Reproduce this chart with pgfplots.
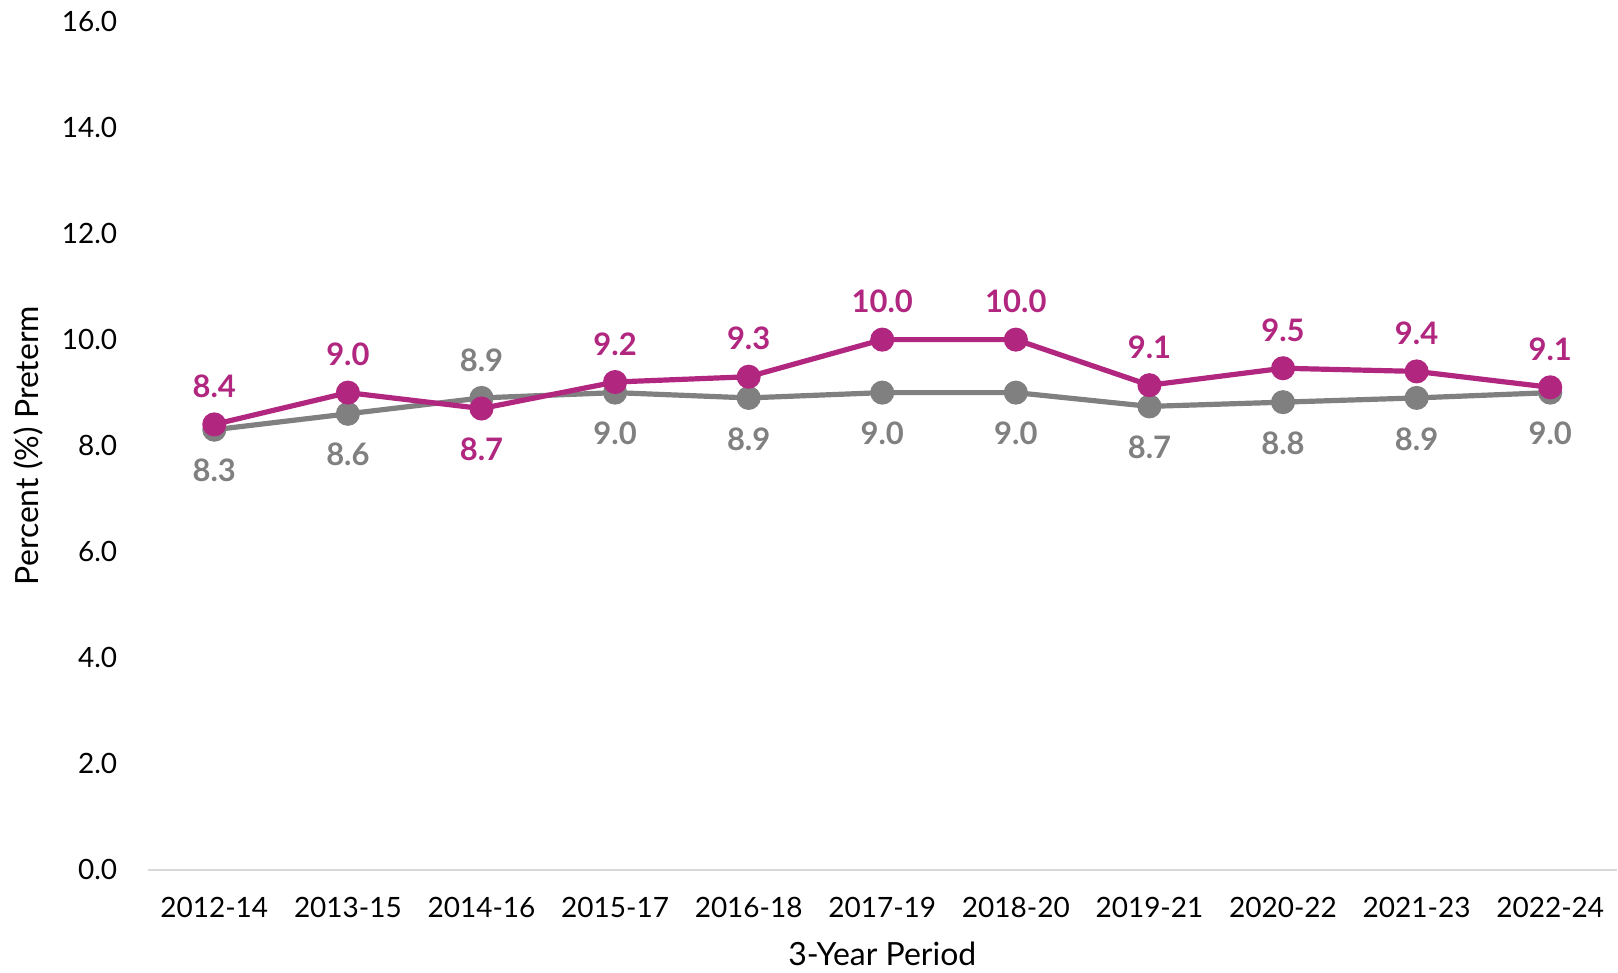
\documentclass[border=0pt]{standalone}
\usepackage{fontspec}
\setmainfont{Lato}
\usepackage{pgfplots}
\pgfplotsset{compat=1.18}
\definecolor{magentaline}{RGB}{177,39,128}
\definecolor{grayline}{RGB}{128,128,128}
\definecolor{axisgray}{RGB}{217,217,217}
\newcommand{\lblfont}{\fontsize{15.5}{18}\selectfont\bfseries}
\begin{document}
\begin{tikzpicture}
\begin{axis}[
  scale only axis, width=735.2pt, height=424.2pt,
  xmin=-0.5, xmax=10.5, ymin=0, ymax=16,
  xtick={0,...,10},
  xticklabels={2012-14,2013-15,2014-16,2015-17,2016-18,2017-19,2018-20,2019-21,2020-22,2021-23,2022-24},
  ytick={0,2,...,16},
  axis x line*=bottom, axis y line*=left,
  y axis line style={draw=none},
  x axis line style={draw=axisgray, line width=1pt},
  tick style={draw=none},
  font=\fontsize{14}{17}\selectfont,
  /pgf/number format/assume math mode=true,
  /pgf/number format/.cd, fixed, fixed zerofill, precision=1, /pgfplots/.cd,
  yticklabel style={anchor=east, inner sep=0pt, xshift=-15pt},
  xticklabel style={anchor=base, inner sep=0pt, yshift=-24pt},
  xlabel={3-Year Period},
  xlabel style={at={(axis description cs:0.5,-0.1132)}, anchor=base, font=\fontsize{16}{19}\selectfont},
  ylabel={Percent (\%) Preterm},
  ylabel style={at={(axis description cs:-0.0807,0.5)}, anchor=center, font=\fontsize{16}{19}\selectfont},
  clip=false,
]
% gray series
\addplot[grayline, line width=2.6pt, mark=*, mark size=4.7pt] coordinates {
  (0,8.3) (1,8.6) (2,8.9) (3,9.0) (4,8.9) (5,9.0) (6,9.0) (7,8.74) (8,8.82) (9,8.9) (10,9.0)};
% magenta series
\addplot[magentaline, line width=2.6pt, mark=*, mark size=4.7pt] coordinates {
  (0,8.4) (1,9.0) (2,8.7) (3,9.2) (4,9.3) (5,10.0) (6,10.0) (7,9.14) (8,9.46) (9,9.4) (10,9.1)};
% labels
\addplot[draw=none, mark=none, forget plot, nodes near coords,
  nodes near coords style={text=grayline, font=\lblfont, anchor=center, yshift=-20.5pt}]
  coordinates {(0,8.3) (1,8.6) (3,9.0) (4,8.9) (5,9.0) (6,9.0) (7,8.74) (8,8.82) (9,8.9) (10,9.0)};
\addplot[draw=none, mark=none, forget plot, nodes near coords,
  nodes near coords style={text=grayline, font=\lblfont, anchor=center, yshift=19pt}]
  coordinates {(2,8.9)};
\addplot[draw=none, mark=none, forget plot, nodes near coords,
  nodes near coords style={text=magentaline, font=\lblfont, anchor=center, yshift=19pt}]
  coordinates {(0,8.4) (1,9.0) (3,9.2) (4,9.3) (5,10.0) (6,10.0) (7,9.14) (8,9.46) (9,9.4) (10,9.1)};
\addplot[draw=none, mark=none, forget plot, nodes near coords,
  nodes near coords style={text=magentaline, font=\lblfont, anchor=center, yshift=-20.5pt}]
  coordinates {(2,8.7)};
\end{axis}
\path ([shift={(-73.8pt,-50.5pt)}]current axis.south west) rectangle ([shift={(0pt,10.85pt)}]current axis.north east);
\end{tikzpicture}
\end{document}
